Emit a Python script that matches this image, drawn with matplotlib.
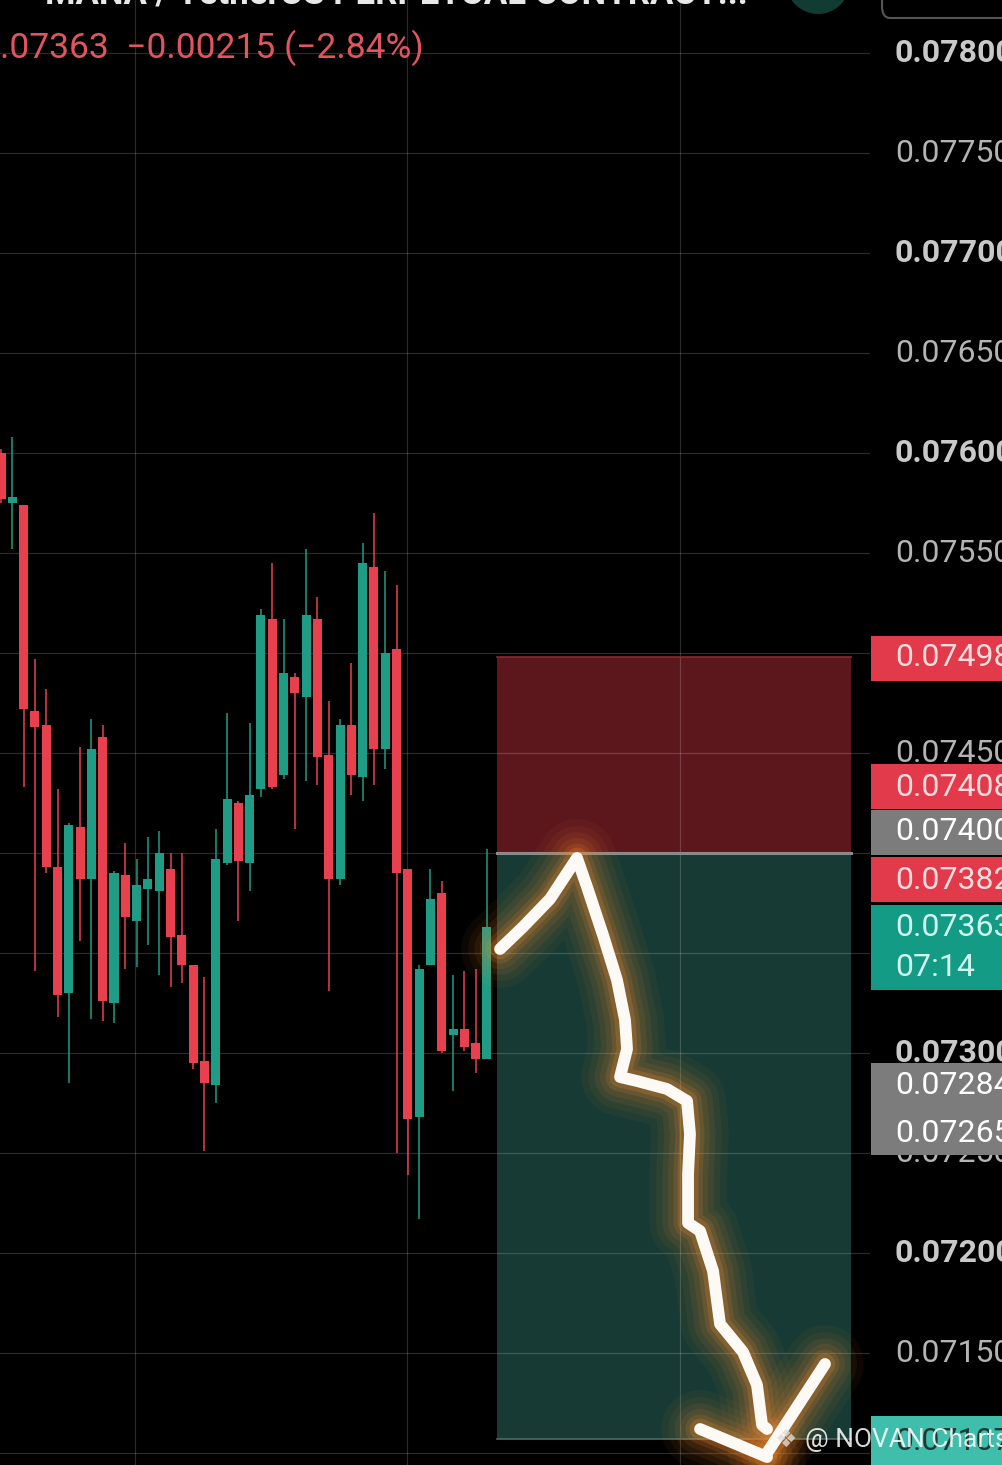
import matplotlib
matplotlib.use("Agg")
import matplotlib.pyplot as plt
from matplotlib.patches import Rectangle, Ellipse, FancyBboxPatch
from matplotlib.transforms import blended_transform_factory
import numpy as np

plt.rcParams['font.family'] = ['Roboto', 'DejaVu Sans']

# ---------------- data ----------------
opens  = [0.07600, 0.07575, 0.07574, 0.07471, 0.07464, 0.07393, 0.07330, 0.07413, 0.07387, 0.07458,
          0.07325, 0.07389, 0.07366, 0.07382, 0.07381, 0.07392, 0.07359, 0.07344, 0.07296, 0.07284,
          0.07395, 0.07425, 0.07395, 0.07432, 0.07517, 0.07439, 0.07488, 0.07478, 0.07517, 0.07449,
          0.07387, 0.07464, 0.07438, 0.07543, 0.07452, 0.07502, 0.07392, 0.07268, 0.07344, 0.07380,
          0.07309, 0.07312, 0.07305, 0.07297]
highs  = [0.07602, 0.07608, 0.07574, 0.07497, 0.07482, 0.07432, 0.07415, 0.07453, 0.07467, 0.07464,
          0.07391, 0.07405, 0.07397, 0.07408, 0.07411, 0.07400, 0.07400, 0.07344, 0.07338, 0.07412,
          0.07470, 0.07426, 0.07465, 0.07522, 0.07545, 0.07517, 0.07490, 0.07552, 0.07528, 0.07476,
          0.07467, 0.07495, 0.07555, 0.07570, 0.07541, 0.07534, 0.07392, 0.07344, 0.07392, 0.07386,
          0.07339, 0.07341, 0.07342, 0.07402]
lows   = [0.07575, 0.07552, 0.07433, 0.07341, 0.07390, 0.07318, 0.07285, 0.07356, 0.07317, 0.07316,
          0.07315, 0.07342, 0.07343, 0.07354, 0.07339, 0.07333, 0.07335, 0.07292, 0.07251, 0.07275,
          0.07394, 0.07366, 0.07381, 0.07428, 0.07432, 0.07437, 0.07412, 0.07436, 0.07434, 0.07331,
          0.07384, 0.07429, 0.07426, 0.07434, 0.07442, 0.07250, 0.07239, 0.07217, 0.07344, 0.07300,
          0.07281, 0.07301, 0.07290, 0.07297]
closes = [0.07577, 0.07578, 0.07472, 0.07463, 0.07393, 0.07329, 0.07414, 0.07387, 0.07452, 0.07326,
          0.07390, 0.07368, 0.07384, 0.07387, 0.07400, 0.07358, 0.07344, 0.07295, 0.07285, 0.07397,
          0.07427, 0.07396, 0.07429, 0.07519, 0.07433, 0.07490, 0.07480, 0.07519, 0.07448, 0.07387,
          0.07464, 0.07439, 0.07545, 0.07452, 0.07500, 0.07390, 0.07267, 0.07342, 0.07377, 0.07301,
          0.07312, 0.07303, 0.07297, 0.07363]

# price-scale labels that are visible (others are hidden under price tags)
price_levels = [0.07800, 0.07750, 0.07700, 0.07650, 0.07600, 0.07550, 0.07450,
                0.07300, 0.07250, 0.07200, 0.07150]
price_labels = ["0.07800", "0.07750", "0.07700", "0.07650", "0.07600", "0.07550", "0.07450",
                "0.07300", "0.07250", "0.07200", "0.07150"]
grid_levels = [0.07800, 0.07750, 0.07700, 0.07650, 0.07600, 0.07550, 0.07500, 0.07450,
               0.07400, 0.07350, 0.07300, 0.07250, 0.07200, 0.07150, 0.07100]

stop_price = 0.07498
entry_price = 0.07400
target_price = 0.07107

header_text = ".07363  \u22120.00215 (\u22122.84%)"
title_text = "MANA / TetherUS PERPETUAL CONTRACT..."

# hand-drawn arrow (candle index, price)
arrow_x = [44.16, 46.19, 48.58, 50.97, 51.86, 53.27, 54.51, 55.22, 55.40, 54.78, 56.28, 58.94,
           60.71, 60.97, 60.80, 60.80, 61.86, 63.01, 63.63, 65.66, 66.90, 67.35, 67.79]
arrow_y = [0.07352, 0.07363, 0.07377, 0.073975, 0.07383, 0.07359, 0.073365, 0.073165, 0.07302,
           0.07288, 0.07286, 0.07282, 0.07276, 0.072595, 0.072395, 0.07215, 0.07211, 0.07191,
           0.071645, 0.071505, 0.07134, 0.07114, 0.07112]
head_left_x = [61.86, 67.79]
head_left_y = [0.07112, 0.07098]
head_right_x = [67.79, 72.92]
head_right_y = [0.07100, 0.071445]

# ---------------- style ----------------
W, H = 1002, 1465
RED = '#e8404f'
GREEN = '#1f9c85'
GRID = '#ffffff'

fig = plt.figure(figsize=(W / 100, H / 100), dpi=100, facecolor='black')
ax = fig.add_axes([0, 0, 870 / W, 1])
ax.set_facecolor('black')
for s in ax.spines.values():
    s.set_visible(False)
ax.set_xticks([])
ax.set_yticks([])
ax.set_xlim(-0.09, 76.9)
ax.set_ylim(0.07094, 0.078265)

# grid
for lv in grid_levels:
    ax.axhline(lv, color=GRID, alpha=0.17, lw=0.9, zorder=2)
for vx in [11.86, 35.93, 60.09]:
    ax.axvline(vx, color=GRID, alpha=0.17, lw=0.9, zorder=2)

# position box
bx0, bx1 = 43.9, 75.22
ax.add_patch(Rectangle((bx0, entry_price), bx1 - bx0, stop_price - entry_price,
                       facecolor='#5c171d', edgecolor='none', zorder=1))
ax.add_patch(Rectangle((bx0, target_price), bx1 - bx0, entry_price - target_price,
                       facecolor='#173a34', edgecolor='none', zorder=1))
ax.plot([bx0, bx1], [entry_price, entry_price], color='#8a8a8a', lw=2.2, zorder=2.5)
ax.plot([bx0, bx1], [stop_price, stop_price], color='#8a2a30', lw=1.2, zorder=2.5)
ax.plot([bx0, bx1], [target_price, target_price], color='#4d6a64', lw=1.2, zorder=2.5)

# candles
idx = np.arange(len(opens))
o = np.array(opens); c = np.array(closes); hi = np.array(highs); lo = np.array(lows)
cols = [GREEN if cc >= oo else RED for oo, cc in zip(o, c)]
ax.vlines(idx, lo, hi, colors=cols, lw=1.1, zorder=3)
body_h = np.maximum(np.abs(c - o), 0.000012)
ax.bar(idx, body_h, bottom=np.minimum(o, c), width=0.8, color=cols, zorder=4, linewidth=0)

# arrow with glow
paths = [(arrow_x, arrow_y), (head_left_x, head_left_y), (head_right_x, head_right_y)]
for w, a in [(56, 0.05), (46, 0.06), (37, 0.08), (29, 0.10), (21, 0.14), (15, 0.22)]:
    for px_, py_ in paths:
        ax.plot(px_, py_, color='#f08a30', lw=w, alpha=a, solid_capstyle='round',
                solid_joinstyle='round', zorder=5)
for px_, py_ in paths:
    ax.plot(px_, py_, color='#fdfaf5', lw=8.5, solid_capstyle='round',
            solid_joinstyle='round', zorder=6)

# right price-axis labels
btr = blended_transform_factory(ax.transAxes, ax.transData)
for lv, lb in zip(price_levels, price_labels):
    bold = abs(round(lv * 1000) - lv * 1000) < 1e-6
    ax.text(895 / 870, lv, lb, transform=btr, ha='left', va='center', fontsize=23,
            color='#c9c9c9' if bold else '#b4b4b4', fontweight='bold' if bold else 'normal',
            clip_on=False, zorder=7)

# price tags (layout in pixels)
def fx(px):
    return px / W

def fy(py):
    return 1 - py / H

tags = [  # (top, bottom, facecolor, [(text, ycenter, textcolor)])
    (636, 681, '#e23a4a', [("0.07498", 658, '#f6dede')]),
    (764, 809, '#e23a4a', [("0.07408", 787, '#f6dede')]),
    (810, 855, '#7c7c7c', [("0.07400", 832, '#ffffff')]),
    (857, 902, '#e23a4a', [("0.07382", 880, '#f6dede')]),
    (905, 990, '#139b86', [("0.07363", 928, '#d2f5ee'), ("07:14", 967, '#d2f5ee')]),
    (1063, 1155, '#7c7c7c', [("0.07284", 1086, '#ffffff'), ("0.07265", 1133, '#ffffff')]),
    (1416, 1470, '#3fbeab', [("0.07107", 1441, '#1f3a36')]),
]
for top, bot, fc, lines in tags:
    fig.patches.append(Rectangle((fx(871), fy(bot)), fx(W) - fx(871) + 0.01, fy(top) - fy(bot),
                                 transform=fig.transFigure, facecolor=fc, edgecolor='none', zorder=8))
    for t, yc, tc in lines:
        fig.text(fx(895), fy(yc), t, ha='left', va='center', fontsize=23, color=tc, zorder=9)

# header
fig.text(fx(0), fy(48), header_text, ha='left', va='center', fontsize=25.5, color='#e2555e', zorder=9)
fig.text(fx(45), fy(3), title_text, ha='left', va='baseline', fontsize=25, color='#e8e8e8',
         fontweight='bold', zorder=9)
fig.patches.append(Ellipse((fx(818), fy(-18)), 64 / W, 64 / H, transform=fig.transFigure,
                           facecolor='#123b33', edgecolor='none', zorder=8))
fig.patches.append(FancyBboxPatch((fx(882), fy(18)), fx(W) - fx(882) + 0.02, 0.04,
                                  boxstyle='round,pad=0,rounding_size=0.008', transform=fig.transFigure,
                                  facecolor='black', edgecolor='#555555', lw=1.5, zorder=8))

# watermark
fig.text(fx(775), fy(1440), "\u2756", ha='left', va='center', fontsize=18,
         color='#dddddd', alpha=0.8, family=['DejaVu Sans'], zorder=10)
fig.text(fx(805), fy(1440), "@ NOVAN Charts", ha='left', va='center', fontsize=19,
         color='#ffffff', alpha=0.85, zorder=10)

fig.savefig('out.png', dpi=100, facecolor='black')
